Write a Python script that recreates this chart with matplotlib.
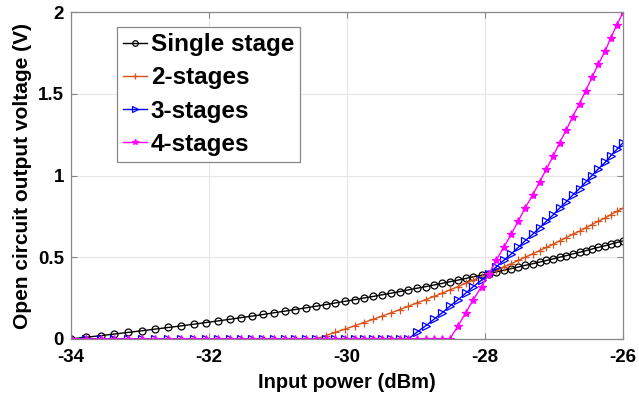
import matplotlib
matplotlib.use("Agg")
import matplotlib.pyplot as plt

plt.rcParams['font.family'] = ['Liberation Sans', 'DejaVu Sans']
plt.rcParams['font.weight'] = 'bold'

# Input power samples (dBm)
input_power = [-34.00, -33.78, -33.57, -33.37, -33.17, -32.97, -32.78, -32.59, -32.40, -32.22,
               -32.05, -31.87, -31.70, -31.54, -31.37, -31.21, -31.06, -30.90, -30.75, -30.60,
               -30.45, -30.31, -30.17, -30.03, -29.89, -29.76, -29.62, -29.49, -29.36, -29.23,
               -29.11, -28.99, -28.86, -28.74, -28.62, -28.51, -28.39, -28.28, -28.17, -28.05,
               -27.94, -27.84, -27.73, -27.62, -27.52, -27.42, -27.31, -27.21, -27.11, -27.01,
               -26.92, -26.82, -26.73, -26.63, -26.54, -26.45, -26.36, -26.26, -26.18, -26.09,
               -26.00]

single_stage = [0.00, 0.01, 0.02, 0.03, 0.04, 0.05, 0.06, 0.07, 0.08, 0.09,
                0.10, 0.11, 0.12, 0.13, 0.14, 0.15, 0.16, 0.17, 0.18, 0.19,
                0.20, 0.21, 0.22, 0.23, 0.24, 0.25, 0.26, 0.27, 0.28, 0.29,
                0.30, 0.31, 0.32, 0.33, 0.34, 0.35, 0.36, 0.37, 0.38, 0.39,
                0.40, 0.41, 0.42, 0.43, 0.44, 0.45, 0.46, 0.47, 0.48, 0.49,
                0.50, 0.51, 0.52, 0.53, 0.54, 0.55, 0.56, 0.57, 0.58, 0.59,
                0.60]

two_stages = [0.0] * 21 + [0.02, 0.04, 0.06, 0.08, 0.10, 0.12, 0.14, 0.16, 0.18, 0.20,
                           0.22, 0.24, 0.26, 0.28, 0.30, 0.32, 0.34, 0.36, 0.38, 0.40,
                           0.42, 0.44, 0.46, 0.48, 0.50, 0.52, 0.54, 0.56, 0.58, 0.60,
                           0.62, 0.64, 0.66, 0.68, 0.70, 0.72, 0.74, 0.76, 0.78, 0.80]

three_stages = [0.0] * 31 + [0.04, 0.08, 0.12, 0.16, 0.20, 0.24, 0.28, 0.32, 0.36, 0.40,
                             0.44, 0.48, 0.52, 0.56, 0.60, 0.64, 0.68, 0.72, 0.76, 0.80,
                             0.84, 0.88, 0.92, 0.96, 1.00, 1.04, 1.08, 1.12, 1.16, 1.20]

four_stages = [0.0] * 36 + [0.08, 0.16, 0.24, 0.32, 0.40, 0.48, 0.56, 0.64, 0.72, 0.80,
                            0.88, 0.96, 1.04, 1.12, 1.20, 1.28, 1.36, 1.44, 1.52, 1.60,
                            1.68, 1.76, 1.84, 1.92, 2.00]

labels = ['Single stage', '2-stages', '3-stages', '4-stages']
x_ticks = [-34, -32, -30, -28, -26]
y_ticks = [0, 0.5, 1, 1.5, 2]
y_ticklabels = ['0', '0.5', '1', '1.5', '2']

fig = plt.figure(figsize=(6.39, 4.03), dpi=100)
ax = fig.add_axes([0.111, 0.159, 0.864, 0.811])

ax.plot(input_power, single_stage, color='black', marker='o', mfc='none', ms=5, lw=1, mew=0.9, label=labels[0])
ax.plot(input_power, two_stages, color='#D95319', marker='+', ms=5.5, lw=1, mew=0.9, label=labels[1])
ax.plot(input_power, three_stages, color='blue', marker='>', mfc='none', ms=5.5, lw=1, mew=0.9, label=labels[2])
ax.plot(input_power, four_stages, color='magenta', marker='*', ms=6, lw=1, mew=0.9, label=labels[3])

ax.set_xlim(-34, -26)
ax.set_ylim(0, 2)
ax.set_xticks(x_ticks)
ax.set_xticklabels([str(t) for t in x_ticks])
ax.set_yticks(y_ticks)
ax.set_yticklabels(y_ticklabels)
ax.tick_params(direction='in', labelsize=13.5, length=4, color='#888888', top=True, right=True)
ax.tick_params(axis='x', pad=7)
ax.tick_params(axis='y', pad=5)
for lab in ax.get_xticklabels() + ax.get_yticklabels():
    lab.set_fontweight('bold')
ax.grid(True, color='#e6e6e6', lw=0.8)
ax.set_axisbelow(True)
for s in ax.spines.values():
    s.set_color('#888888')
    s.set_linewidth(0.9)

ax.set_xlabel('Input power (dBm)', fontsize=14.5, fontweight='bold', labelpad=5)
ax.set_ylabel('Open circuit output voltage (V)', fontsize=15, fontweight='bold', labelpad=4)

leg = ax.legend(loc='upper left', bbox_to_anchor=(0.083, 0.954), borderaxespad=0,
                prop={'size': 17.5, 'weight': 'bold'}, handlelength=1.0, handletextpad=0.15,
                labelspacing=0.42, borderpad=0.25, fancybox=False, framealpha=1, edgecolor='#888888')
leg.get_frame().set_linewidth(0.9)
for h in leg.legend_handles:
    h.set_markersize(4)

fig.savefig('out.png', dpi=100)
